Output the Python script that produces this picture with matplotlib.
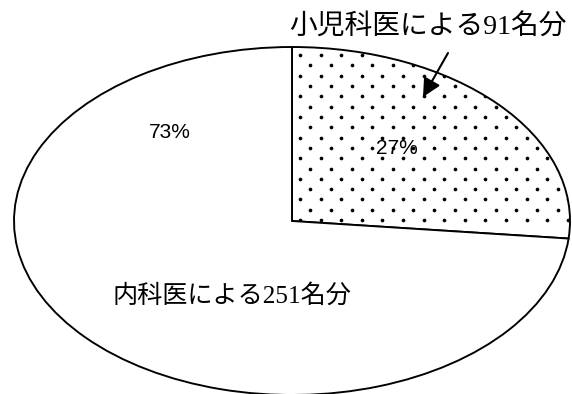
import numpy as np
import matplotlib.pyplot as plt

# data
groups = ['小児科医', '内科医']
counts = [91, 251]
group_labels = ['小児科医による91名分', '内科医による251名分']

DPI = 125
W, H = 572, 394

fig = plt.figure(figsize=(W / DPI, H / DPI), dpi=DPI)
fig.patch.set_facecolor('white')

# axes placed so the (stretched) pie fills the frame like an ellipse
cx, cy, a, b = 292, 221, 278, 174
ax = fig.add_axes([(cx - a) / W, (H - (cy + b)) / H, 2 * a / W, 2 * b / H])

wedges, _ = ax.pie(counts, startangle=90, counterclock=False, radius=1,
                   colors=['white', 'white'],
                   wedgeprops=dict(edgecolor='black', linewidth=1.1))
ax.set_xlim(-1, 1)
ax.set_ylim(-1, 1)
ax.set_aspect('auto')
ax.axis('off')


def to_data(px, py):
    return (px - cx) / a, (cy - py) / b


# staggered dot texture for the small slice (clipped to the wedge)
dot_dx, dot_dy = 20.6 / a, 10.3 / b
gx, gy = [], []
for r in range(int(2 / dot_dy) + 1):
    shift = (r % 2) * dot_dx / 2
    xs = np.arange(8 / a + shift, 1, dot_dx)
    gx.extend(xs)
    gy.extend([1 / b + r * dot_dy] * len(xs))
dots = ax.scatter(gx, gy, s=4.5, c='black', linewidths=0, zorder=3)
dots.set_clip_path(wedges[0])

total = sum(counts)
pcts = [round(100 * c / total) for c in counts]

num_font = ['Liberation Sans Narrow', 'Liberation Sans', 'DejaVu Sans']
jp_font = ['Liberation Serif', 'Noto Sans CJK JP']

# percentage labels
x, y = to_data(397, 148)
ax.text(x, y, f'{pcts[0]}%', family=num_font, fontsize=12, ha='center', va='center',
        zorder=4)
x, y = to_data(170, 133)
ax.text(x, y, f'{pcts[1]}%', family=num_font, fontsize=12, ha='center', va='center')

# group labels
x, y = to_data(232, 296)
ax.text(x, y, group_labels[1], family=jp_font, fontsize=14.5, ha='center', va='center')
x, y = to_data(428, 28)
ax.text(x, y, group_labels[0], family=jp_font, fontsize=16, ha='center', va='center',
        clip_on=False)

# arrow pointing into the small slice
ax.annotate('', xy=to_data(423, 97), xytext=to_data(448, 53),
            arrowprops=dict(arrowstyle='-|>', color='black', lw=1.2,
                            mutation_scale=22, shrinkA=0, shrinkB=0),
            annotation_clip=False, zorder=5)

fig.savefig('out.png', dpi=DPI, facecolor='white')
